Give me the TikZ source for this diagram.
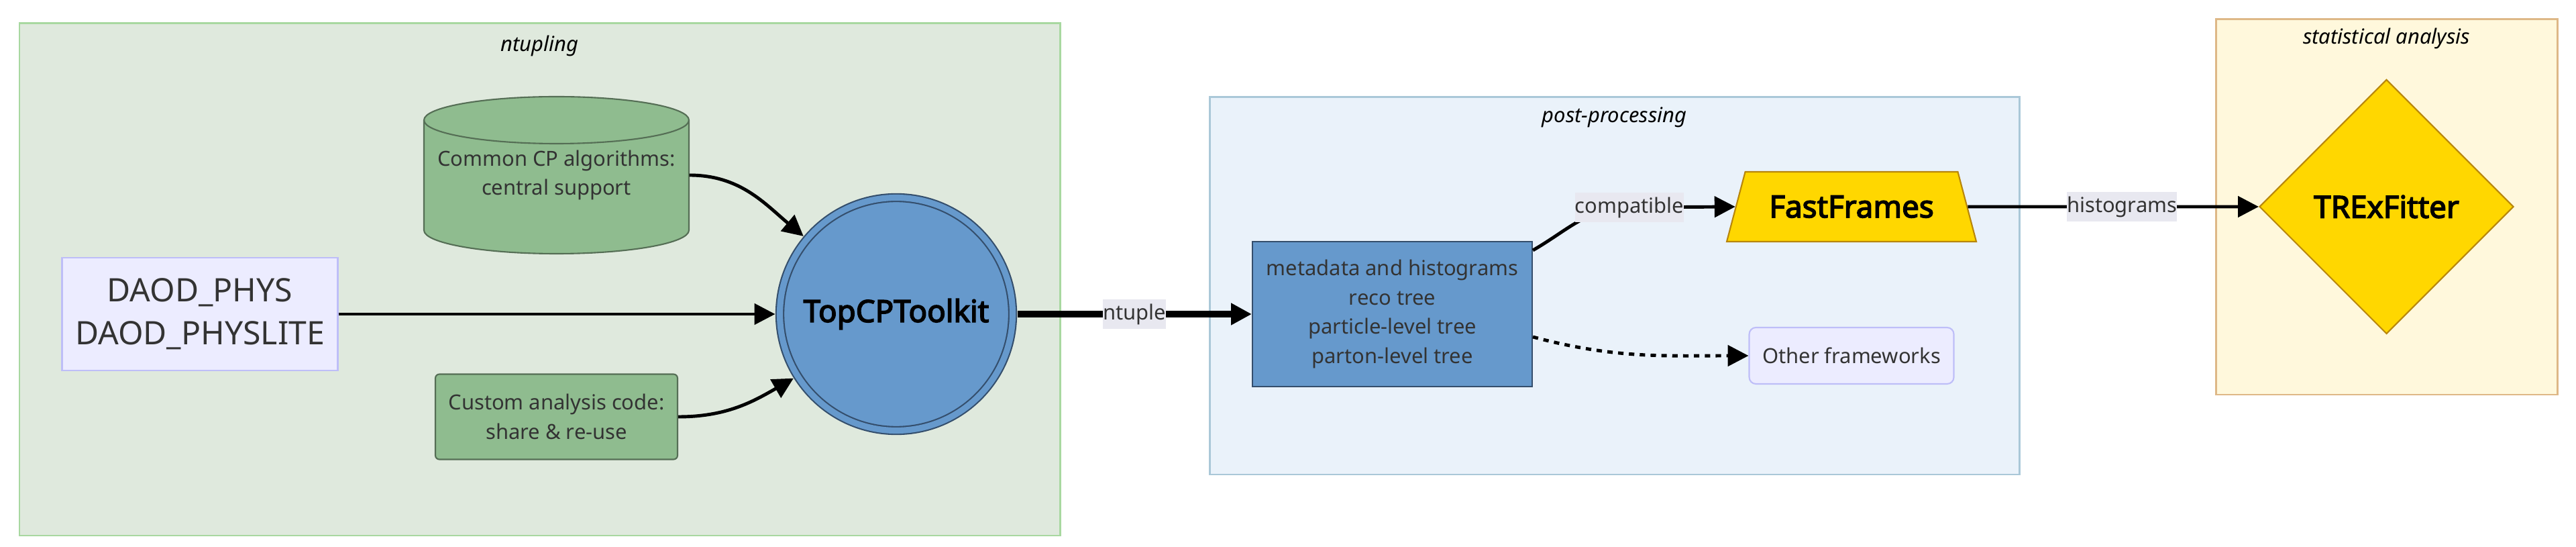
\documentclass[tikz,border=0pt]{standalone}
\usepackage{fontspec}
\setmainfont{Noto Sans}[BoldFont={Noto Sans}, BoldFeatures={FakeBold=3.4}]
\usetikzlibrary{shapes.geometric,arrows.meta,positioning}

\definecolor{textgray}{HTML}{333333}
\definecolor{ntupfill}{HTML}{DFE9DD}
\definecolor{ntupline}{HTML}{A8D8A0}
\definecolor{postfill}{HTML}{EAF2FA}
\definecolor{postline}{HTML}{AAC8D8}
\definecolor{statfill}{HTML}{FFF8DC}
\definecolor{statline}{HTML}{DEB887}
\definecolor{daodfill}{HTML}{ECECFF}
\definecolor{daodline}{HTML}{BEBEF8}
\definecolor{greenfill}{HTML}{8FBC8F}
\definecolor{greenline}{HTML}{556E55}
\definecolor{bluefill}{HTML}{6699CC}
\definecolor{blueline}{HTML}{344E6C}
\definecolor{goldfill}{HTML}{FFD700}
\definecolor{goldline}{HTML}{B8860B}
\definecolor{lblfill}{HTML}{E8E8F0}

\begin{document}
\begin{tikzpicture}[
    cluster/.style={rectangle, draw, line width=0.85pt, inner sep=0pt},
    title/.style={font=\fontsize{8.8}{12.4}\selectfont\itshape, inner sep=0pt},
    inputbox/.style={rectangle, draw=daodline, fill=daodfill, line width=0.6pt, text=textgray, align=center, minimum width=4.11cm, minimum height=1.68cm, font=\fontsize{13.7}{18.2}\selectfont},
    cylline/.style={draw=greenline, fill=greenfill, line width=0.6pt},
    storebox/.style={rectangle, text=textgray, align=center, minimum width=3.95cm, minimum height=2.34cm, font=\fontsize{8.8}{12.4}\selectfont},
    codebox/.style={rectangle, rounded corners=0.06cm, draw=greenline, fill=greenfill, line width=0.6pt, text=textgray, align=center, minimum width=3.61cm, minimum height=1.27cm, font=\fontsize{8.8}{12.4}\selectfont},
    toolnode/.style={circle, draw=blueline, fill=bluefill, double=bluefill, double distance=2.6pt, line width=0.6pt, minimum size=3.47cm, outer sep=2pt, font=\fontsize{13}{15}\selectfont\bfseries},
    metabox/.style={rectangle, draw=blueline, fill=bluefill, line width=0.6pt, text=textgray, align=center, minimum width=4.17cm, minimum height=2.16cm, font=\fontsize{8.8}{12.4}\selectfont},
    ffbox/.style={trapezium, trapezium left angle=64, trapezium right angle=64, trapezium stretches body, draw=goldline, fill=goldfill, line width=0.6pt, minimum width=3.72cm, minimum height=1.04cm, font=\fontsize{13}{15}\selectfont\bfseries},
    fitbox/.style={diamond, draw=goldline, fill=goldfill, line width=0.6pt, minimum width=3.79cm, minimum height=3.79cm, font=\fontsize{13}{15}\selectfont\bfseries},
    otherbox/.style={rectangle, rounded corners=0.1cm, draw=daodline, fill=daodfill, line width=0.6pt, text=textgray, minimum width=3.05cm, minimum height=0.84cm, font=\fontsize{8.8}{12.4}\selectfont},
    lbl/.style={fill=lblfill, text=textgray, inner xsep=0pt, inner ysep=0pt, minimum height=12.4pt, font=\fontsize{8.8}{12.4}\selectfont},
    arrow/.style={line width=1.4pt, ->, >={Triangle[length=8.8pt,width=8.8pt]}},
    thickarrow/.style={arrow, line width=2.6pt},
    dotarrow/.style={arrow, dash pattern=on 2.3pt off 2.3pt}
]
\useasboundingbox (0,0) rectangle (38.4,-8.15);

% Clusters
\node[cluster, draw=ntupline, fill=ntupfill, minimum width=15.51cm, minimum height=7.635cm] (ntupling) at (8.045,-4.1625) {};
\node[cluster, draw=postline, fill=postfill, minimum width=12.07cm, minimum height=5.62cm] (post) at (24.065,-4.26) {};
\node[cluster, draw=statline, fill=statfill, minimum width=5.09cm, minimum height=5.59cm] (stat) at (35.575,-3.085) {};

\node[title, below=0.19cm of ntupling.north] (ntuptitle) {ntupling};
\node[title, below=0.16cm of post.north] (posttitle) {post-processing};
\node[title, below=0.14cm of stat.north] (stattitle) {statistical analysis};

% ntupling
\node[inputbox] (daod) at (2.98,-4.68) {DAOD\_PHYS\\DAOD\_PHYSLITE};

% cylinder outline
\begin{scope}[shift={(8.295,-2.61)}]
    \draw[cylline] (-1.975,0.82) -- (-1.975,-0.82) arc[start angle=180, end angle=360, x radius=1.975, y radius=0.35] -- (1.975,0.82) arc[start angle=0, end angle=180, x radius=1.975, y radius=0.35] -- cycle;
    \draw[cylline, fill=none] (-1.975,0.82) arc[start angle=180, end angle=360, x radius=1.975, y radius=0.35];
\end{scope}
\node[storebox] (common) at (8.295,-2.61) {Common CP algorithms:\\central support};

\node[codebox] (custom) at (8.295,-6.21) {Custom analysis code:\\share \& re-use};
\node[toolnode] (topcp) at (13.36,-4.68) {TopCPToolkit};

% post-processing
\node[metabox] (meta) at (20.755,-4.68) {metadata and histograms\\reco tree\\particle-level tree\\parton-level tree};
\node[ffbox] (ff) at (27.6,-3.08) {FastFrames};
\node[otherbox] (other) at (27.6,-5.30) {Other frameworks};
\coordinate (cmpt) at (24.29,-3.09);

% statistical analysis
\node[fitbox] (trex) at (35.575,-3.08) {TRExFitter};

% Arrows
\draw[arrow] (daod) -- (topcp);
\draw[arrow] (common.east) to[out=0,in=140] (topcp.140);
\draw[arrow] (custom.east) to[out=0,in=210] (topcp.212);
\draw[thickarrow] (topcp) -- node[lbl] {ntuple} (meta);
\draw[arrow] ([yshift=-0.14cm]meta.north east) to[out=30,in=180] (cmpt) node[lbl] {compatible} -- (ff.west);
\draw[dotarrow] ([yshift=-0.34cm]meta.east) to[out=-15,in=180] (other.west);
\draw[arrow] (ff) -- node[lbl, pos=0.53] {histograms} (trex);

\end{tikzpicture}
\end{document}
